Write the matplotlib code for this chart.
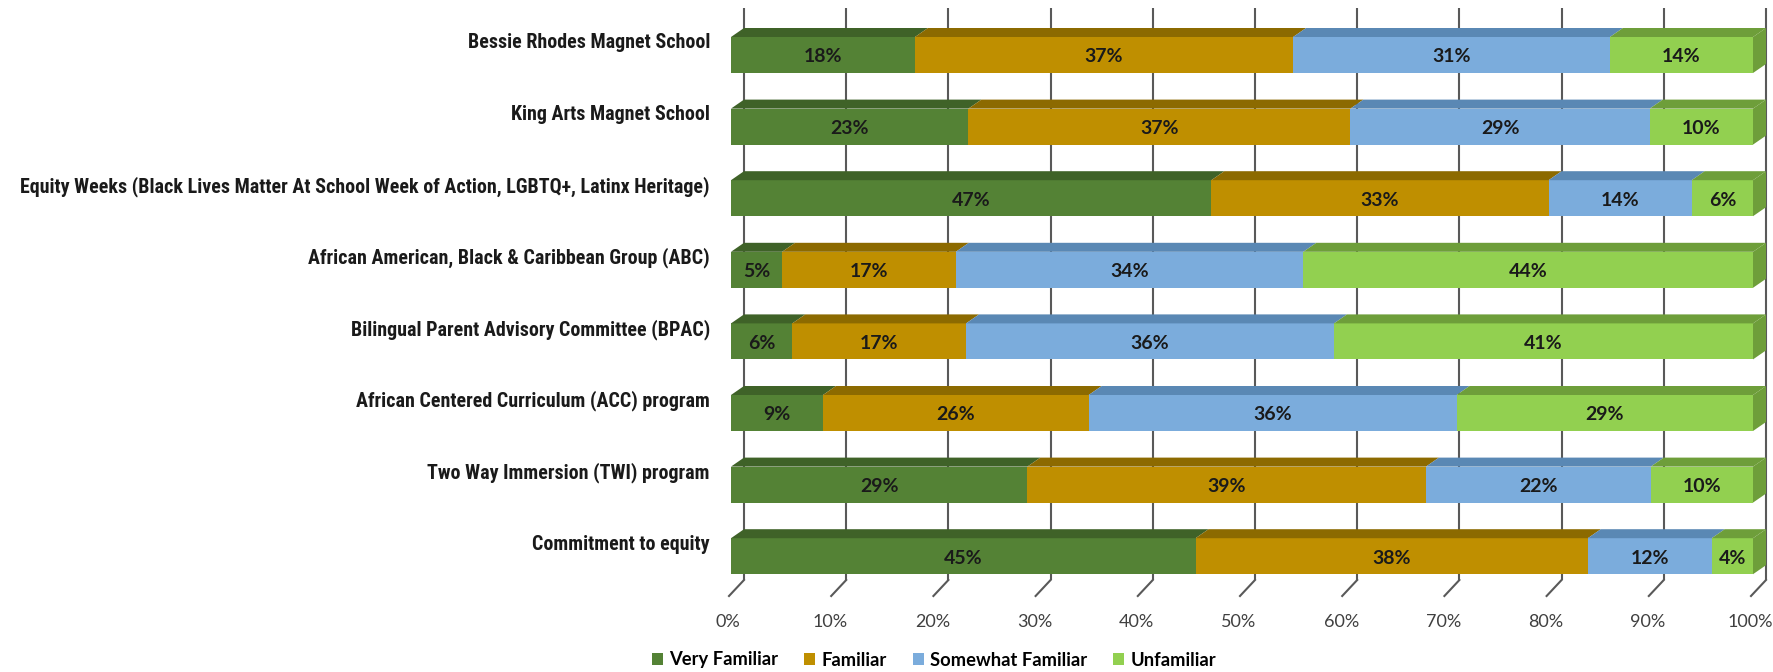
import matplotlib
matplotlib.use("Agg")
import matplotlib.pyplot as plt
from matplotlib.patches import Polygon, Patch
from matplotlib import font_manager
import numpy as np

categories = [
    "Bessie Rhodes Magnet School",
    "King Arts Magnet School",
    "Equity Weeks (Black Lives Matter At School Week of Action, LGBTQ+, Latinx Heritage)",
    "African American, Black & Caribbean Group (ABC)",
    "Bilingual Parent Advisory Committee (BPAC)",
    "African Centered Curriculum (ACC) program",
    "Two Way Immersion (TWI) program",
    "Commitment to equity",
]
series_names = ["Very Familiar", "Familiar", "Somewhat Familiar", "Unfamiliar"]
very_familiar = [18, 23, 47, 5, 6, 9, 29, 45]
familiar = [37, 37, 33, 17, 17, 26, 39, 38]
somewhat_familiar = [31, 29, 14, 34, 36, 36, 22, 12]
unfamiliar = [14, 10, 6, 44, 41, 29, 10, 4]
tick_values = [0, 10, 20, 30, 40, 50, 60, 70, 80, 90, 100]
tick_labels = ["0%", "10%", "20%", "30%", "40%", "50%", "60%", "70%", "80%", "90%", "100%"]

front_colors = ["#548235", "#BF8F00", "#7BACDC", "#92D050"]
top_colors = ["#3F6228", "#8C6A00", "#5A88B4", "#6E9E3A"]

FONT = "Lato"
for cand in ["Roboto Condensed", "Open Sans Condensed", "Liberation Sans Narrow", "Lato"]:
    try:
        font_manager.findfont(cand, fallback_to_default=False)
        FONT = cand
        break
    except Exception:
        pass

W, H = 1773, 672
fig = plt.figure(figsize=(W / 100, H / 100), dpi=100)
ax = fig.add_axes([0, 0, 1, 1])

x0_px, x100_px = 731, 1753
ppx = (x100_px - x0_px) / 100.0
y0_px, pitch = 55, 71.6
ax.set_xlim(-x0_px / ppx, 100 + (W - x100_px) / ppx)
ax.set_ylim((H - y0_px) / pitch, -y0_px / pitch)
ax.axis("off")

dx = 13 / ppx
dy = 9 / pitch
bh = 36 / pitch

def py(p):
    return (p - y0_px) / pitch

floor_back = py(580)
for t in tick_values:
    ax.plot([t + dx, t + dx], [py(8), floor_back], color="#595959", lw=1.5, zorder=1, solid_capstyle="butt")
    ax.plot([t + dx, t - 2 / ppx], [floor_back, py(596)], color="#595959", lw=1.5, zorder=1)
    ax.text(t - 3 / ppx, py(622), tick_labels[t // 10], ha="center", va="center",
            fontsize=13, family="Lato", color="#404040")

data = np.array([very_familiar, familiar, somewhat_familiar, unfamiliar], dtype=float)
totals = data.sum(axis=0)
norm = data / totals * 100

y = np.arange(len(categories))
left = np.zeros(len(categories))
for s in range(4):
    widths = norm[s]
    ax.barh(y, widths, left=left, height=bh, color=front_colors[s], edgecolor="none", zorder=3)
    for i in range(len(categories)):
        l, w = left[i], widths[i]
        top = y[i] - bh / 2
        poly = Polygon([(l, top), (l + dx, top - dy), (l + w + dx, top - dy), (l + w, top)],
                       closed=True, facecolor=top_colors[s], edgecolor="none", zorder=3)
        ax.add_patch(poly)
        ax.text(l + w / 2, y[i] + 2 / pitch, f"{int(data[s, i])}%", ha="center", va="center",
                fontsize=14, fontweight="bold", family="Lato", color="#1a1a1a", zorder=5)
    left = left + widths

for i in range(len(categories)):
    top = y[i] - bh / 2
    bot = y[i] + bh / 2
    side = Polygon([(100, top), (100 + dx, top - dy), (100 + dx, bot - dy), (100, bot)],
                   closed=True, facecolor=top_colors[3], edgecolor="none", zorder=3)
    ax.add_patch(side)

renderer = fig.canvas.get_renderer()
label_texts = []
for i, c in enumerate(categories):
    label_texts.append(ax.text(-21 / ppx, y[i] - 12 / pitch, c, ha="right", va="center",
                               fontsize=15, fontweight="bold", family=FONT, color="#1a1a1a"))
widest = max(t.get_window_extent(renderer).width for t in label_texts)
size = min(16.5, 15 * 690 / widest)
for t in label_texts:
    t.set_fontsize(size)

handles = [Patch(facecolor=front_colors[s], edgecolor="none") for s in range(4)]
ax.legend(handles, series_names, loc="center", bbox_to_anchor=(934 / W, 1 - 660 / H),
          ncol=4, frameon=False, handlelength=0.6, handleheight=0.6, handletextpad=0.35,
          columnspacing=1.4, prop={"family": "Lato", "weight": "bold", "size": 13.2})

fig.savefig("out.png", dpi=100)
